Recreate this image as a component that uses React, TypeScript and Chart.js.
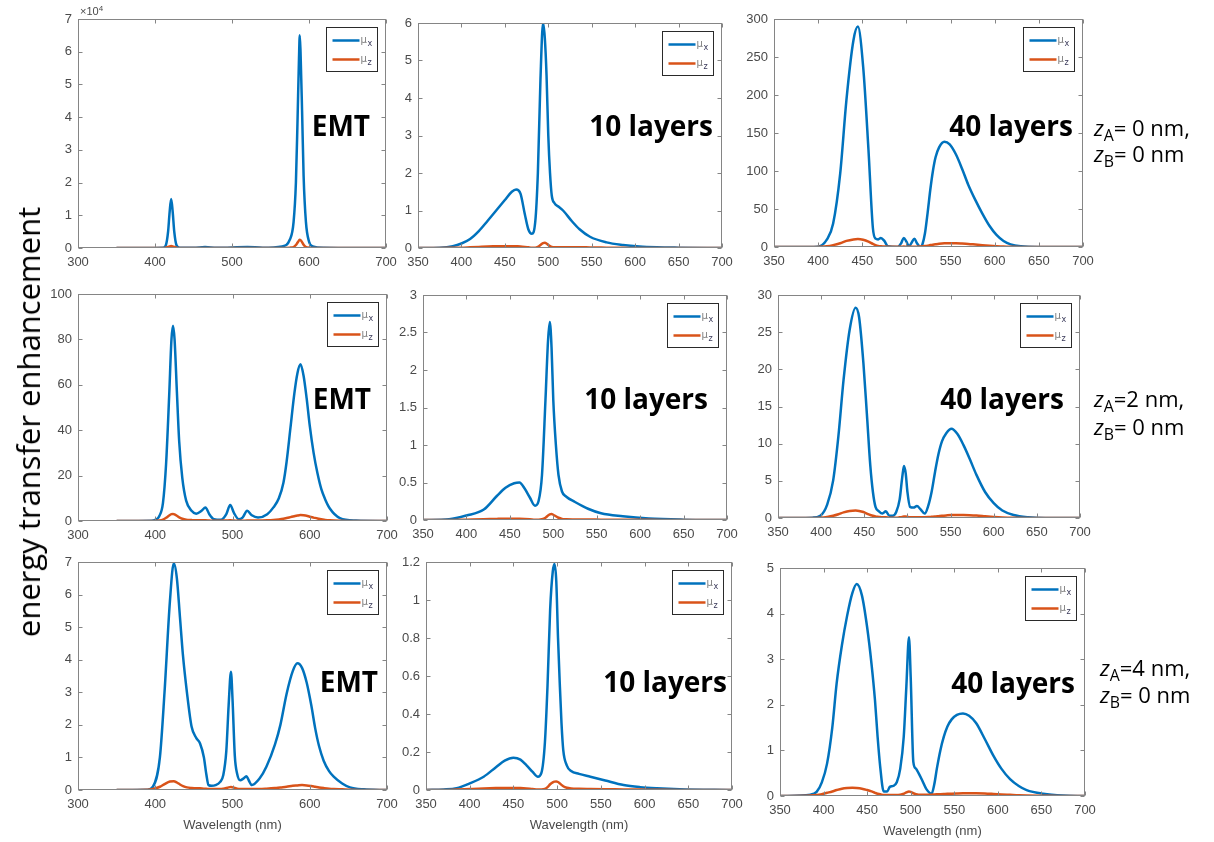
import React, { useEffect, useRef } from 'react';
import { Chart, registerables } from 'chart.js';

Chart.register(...registerables);

// ---------------- data ----------------
// Panel A: EMT, zA = 0 nm
const wlA = [350, 400, 410, 414, 417, 419, 421, 423, 425, 428, 432, 450, 465, 480, 520, 540, 565, 575, 580, 583, 585, 587, 588, 589, 591, 593, 596, 600, 605, 620, 700];
const muxA = [0, 0, 50, 800, 5000, 11000, 15000, 11000, 5000, 800, 100, 50, 300, 50, 300, 100, 500, 2500, 8000, 20000, 38000, 58000, 65000, 60000, 42000, 22000, 8000, 2000, 500, 100, 0];
const muzA = [0, 0, 0, 100, 300, 500, 600, 500, 300, 100, 0, 0, 0, 0, 0, 0, 0, 100, 300, 900, 1600, 2300, 2500, 2400, 1800, 1000, 300, 100, 0, 0, 0];

// Panel B: 10 layers, zA = 0 nm
const wlB = [350, 375, 390, 400, 410, 420, 430, 440, 450, 458, 463, 468, 473, 477, 481, 485, 488, 491, 494, 496, 498, 500, 502, 504, 507, 512, 517, 527, 536, 548, 567, 586, 605, 625, 650, 700];
const muxB = [0, 0.01, 0.05, 0.12, 0.24, 0.45, 0.72, 1.0, 1.28, 1.5, 1.56, 1.45, 0.9, 0.5, 0.38, 0.7, 2.0, 4.5, 6.0, 5.6, 4.6, 3.0, 2.0, 1.4, 1.2, 1.1, 1.0, 0.72, 0.5, 0.3, 0.15, 0.08, 0.04, 0.02, 0.01, 0];
const muzB = [0, 0, 0.005, 0.01, 0.02, 0.03, 0.04, 0.045, 0.05, 0.05, 0.045, 0.04, 0.03, 0.02, 0.01, 0.005, 0.03, 0.08, 0.13, 0.14, 0.12, 0.08, 0.05, 0.03, 0.02, 0.02, 0.02, 0.02, 0.02, 0.015, 0.01, 0.005, 0, 0, 0, 0];

// Panel C: 40 layers, zA = 0 nm
const wlC = [350, 395, 402, 410, 417, 425, 432, 440, 445, 451, 457, 462, 465, 468, 471, 475, 479, 490, 494, 497, 500, 503, 506, 509, 512, 516, 518, 521, 524, 527, 530, 533, 537, 543, 549, 556, 563, 570, 578, 586, 594, 602, 610, 618, 630, 650, 700];
const muxC = [0, 0, 1, 10, 31, 97, 193, 272, 290, 237, 128, 25, 11, 10, 12, 8, 1, 0, 5, 12, 7, 1, 6, 11, 5, 0, 3, 18, 45, 75, 100, 118, 131, 138.5, 135, 122, 103, 82, 62, 44, 28, 16, 8, 3.5, 1, 0.1, 0];
const muzC = [0, 0, 0.3, 1, 2.5, 5, 8, 10, 10.5, 9.5, 7, 4, 2.5, 1.5, 1, 0.5, 0.3, 0.2, 0.3, 0.5, 0.4, 0.3, 0.3, 0.4, 0.4, 0.5, 0.7, 1.2, 1.8, 2.5, 3.1, 3.6, 4.2, 4.8, 5, 4.9, 4.5, 4, 3.2, 2.4, 1.7, 1.1, 0.6, 0.3, 0.1, 0, 0];

// Panel D: EMT, zA = 2 nm
const wlD = [350, 395, 400, 405, 410, 414, 418, 421, 423, 425, 428, 431, 435, 440, 447, 453, 460, 465, 470, 476, 485, 492, 497, 502, 508, 513, 519, 525, 533, 545, 553, 560, 566, 570, 575, 580, 584, 588, 592, 596, 600, 605, 610, 615, 620, 626, 639, 660, 700];
const muxD = [0, 0.1, 0.5, 2, 8, 25, 55, 80, 86, 80, 57, 35, 19, 9, 4.5, 3.2, 4.5, 6, 3, 0.8, 0.5, 3, 7, 3.5, 0.8, 1.5, 4.5, 2.5, 1.5, 3, 6, 10, 17, 26, 41, 56, 65, 69, 64, 54, 42, 30, 21, 14, 9.5, 5.5, 1.3, 0.2, 0];
const muzD = [0, 0, 0.05, 0.2, 0.6, 1.4, 2.4, 3.0, 3.1, 2.9, 2.3, 1.6, 1.0, 0.6, 0.4, 0.3, 0.3, 0.3, 0.2, 0.1, 0.1, 0.2, 0.3, 0.2, 0.1, 0.1, 0.2, 0.2, 0.2, 0.3, 0.45, 0.7, 1.0, 1.3, 1.7, 2.1, 2.4, 2.6, 2.5, 2.3, 1.9, 1.5, 1.1, 0.8, 0.5, 0.3, 0.1, 0, 0];

// Panel E: 10 layers, zA = 2 nm
const wlE = [350, 380, 400, 420, 435, 445, 455, 461, 467, 473, 479, 483, 487, 491, 494, 496, 498, 500, 503, 506, 510, 515, 525, 540, 555, 580, 610, 650, 700];
const muxE = [0, 0.01, 0.06, 0.14, 0.32, 0.43, 0.49, 0.5, 0.42, 0.3, 0.19, 0.25, 0.6, 1.6, 2.4, 2.64, 2.3, 1.6, 1.0, 0.6, 0.38, 0.31, 0.24, 0.15, 0.09, 0.05, 0.02, 0.005, 0];
const muzE = [0, 0, 0.005, 0.01, 0.015, 0.017, 0.017, 0.016, 0.014, 0.01, 0.005, 0.004, 0.01, 0.03, 0.06, 0.075, 0.08, 0.07, 0.05, 0.03, 0.015, 0.01, 0.008, 0.006, 0.005, 0.003, 0.002, 0, 0];

// Panel F: 40 layers, zA = 2 nm
const wlF = [350, 390, 399, 407, 414, 420, 426, 433, 440, 444, 449, 453, 457, 460, 463, 467, 471, 475, 479, 483, 487, 491, 494, 496, 498, 500, 503, 507, 511, 515, 520, 524, 528, 532, 536, 540, 545, 551, 558, 565, 572, 580, 590, 600, 610, 623, 640, 660, 700];
const muxF = [0, 0.05, 0.3, 1.8, 5.1, 11, 18.6, 25.3, 28.3, 27, 20.8, 14, 7, 3.5, 1.5, 0.9, 0.6, 0.9, 0.3, 0.3, 0.8, 2.5, 5.5, 7, 6, 3.5, 1.5, 1.4, 1.6, 1.2, 0.6, 1.6, 3.5, 6.2, 8.6, 10.3, 11.4, 12, 11.3, 9.8, 8.0, 5.8, 3.5, 2.0, 1.0, 0.4, 0.1, 0, 0];
const muzF = [0, 0.01, 0.05, 0.15, 0.3, 0.5, 0.75, 0.95, 1, 0.95, 0.8, 0.6, 0.4, 0.3, 0.2, 0.15, 0.1, 0.1, 0.05, 0.05, 0.05, 0.1, 0.15, 0.2, 0.2, 0.15, 0.1, 0.1, 0.1, 0.1, 0.1, 0.12, 0.16, 0.2, 0.25, 0.3, 0.35, 0.4, 0.42, 0.41, 0.38, 0.33, 0.24, 0.15, 0.08, 0.03, 0.01, 0, 0];

// Panel G: EMT, zA = 4 nm
const wlG = [350, 390, 397, 406, 412, 419, 424, 428, 432, 436, 441, 447, 453, 458, 463, 466, 469, 473, 478, 484, 488, 492, 495, 498, 500, 503, 506, 510, 514, 518, 521, 525, 535, 544, 555, 562, 570, 578, 584, 590, 596, 602, 607, 612, 618, 625, 631, 642, 652, 670, 700];
const muxG = [0, 0.01, 0.1, 1, 3, 5.8, 6.96, 6.5, 5.3, 4.1, 3, 1.95, 1.6, 1.43, 1, 0.5, 0.15, 0.13, 0.15, 0.25, 0.45, 1.2, 2.6, 3.63, 2.8, 1.05, 0.5, 0.3, 0.35, 0.42, 0.3, 0.15, 0.35, 0.72, 1.4, 2.0, 2.95, 3.65, 3.89, 3.75, 3.3, 2.6, 1.9, 1.35, 0.9, 0.58, 0.41, 0.2, 0.08, 0.02, 0];
const muzG = [0, 0.01, 0.03, 0.1, 0.18, 0.26, 0.27, 0.23, 0.17, 0.12, 0.08, 0.06, 0.05, 0.05, 0.04, 0.04, 0.03, 0.03, 0.03, 0.03, 0.04, 0.06, 0.08, 0.09, 0.08, 0.06, 0.04, 0.03, 0.03, 0.03, 0.03, 0.03, 0.03, 0.04, 0.06, 0.08, 0.1, 0.13, 0.14, 0.15, 0.14, 0.12, 0.1, 0.08, 0.06, 0.04, 0.03, 0.02, 0.01, 0, 0];

// Panel H: 10 layers, zA = 4 nm
const wlH = [350, 370, 385, 400, 416, 430, 440, 450, 458, 465, 472, 478, 482, 486, 489, 492, 495, 497, 499, 501, 503, 505, 507, 511, 516, 525, 538, 555, 576, 595, 614, 640, 700];
const muxH = [0, 0.003, 0.01, 0.035, 0.07, 0.12, 0.155, 0.17, 0.16, 0.13, 0.095, 0.07, 0.09, 0.25, 0.55, 0.95, 1.15, 1.19, 1.1, 0.8, 0.56, 0.35, 0.21, 0.13, 0.1, 0.085, 0.07, 0.05, 0.026, 0.015, 0.009, 0.004, 0];
const muzH = [0, 0, 0.002, 0.005, 0.008, 0.01, 0.011, 0.011, 0.01, 0.008, 0.005, 0.003, 0.003, 0.006, 0.015, 0.03, 0.04, 0.044, 0.045, 0.042, 0.035, 0.027, 0.02, 0.012, 0.008, 0.006, 0.005, 0.004, 0.003, 0.002, 0.001, 0, 0];

// Panel I: 40 layers, zA = 4 nm
const wlI = [350, 385, 392, 398, 404, 410, 415, 421, 427, 433, 438, 444, 450, 455, 459, 462, 465, 469, 473, 476, 480, 484, 488, 492, 495, 498, 500, 503, 506, 509, 513, 518, 524, 527, 530, 534, 538, 542, 547, 553, 560, 567, 575, 585, 595, 604, 614, 624, 633, 652, 675, 700];
const muxI = [0, 0.03, 0.09, 0.3, 0.71, 1.5, 2.47, 3.3, 3.95, 4.45, 4.65, 4.4, 3.7, 2.9, 2.1, 1.3, 0.64, 0.1, 0.1, 0.2, 0.22, 0.3, 0.6, 1.3, 2.4, 3.48, 2.6, 0.75, 0.6, 0.5, 0.35, 0.15, 0.05, 0.25, 0.6, 1.0, 1.3, 1.52, 1.68, 1.78, 1.81, 1.76, 1.6, 1.25, 0.88, 0.6, 0.37, 0.22, 0.13, 0.05, 0.01, 0];
const muzI = [0, 0.01, 0.02, 0.04, 0.07, 0.1, 0.13, 0.16, 0.175, 0.18, 0.175, 0.16, 0.13, 0.1, 0.07, 0.05, 0.04, 0.02, 0.02, 0.02, 0.02, 0.02, 0.03, 0.05, 0.08, 0.1, 0.09, 0.06, 0.04, 0.03, 0.03, 0.03, 0.03, 0.033, 0.036, 0.04, 0.044, 0.048, 0.052, 0.056, 0.06, 0.062, 0.06, 0.055, 0.045, 0.035, 0.025, 0.015, 0.01, 0.005, 0, 0];

const seriesNames = ['μx', 'μz'];
const xTitle = 'Wavelength (nm)';
const yTitle = 'energy transfer enhancement';

// ---------------- styling / layout ----------------
const BLUE = '#0072BD';
const ORANGE = '#D95319';
const FRAME = '#858585';
const TICKTXT = '#4a4a4a';
const TICKFONT = 'Liberation Sans';

type PanelCfg = {
  wl: number[]; mux: number[]; muz: number[];
  l: number; t: number; r: number; b: number;
  xmin: number; xstep: number; ymax: number; ystep: number;
  tickDiv?: number; title?: boolean;
};

const panels: PanelCfg[] = [
  { wl: wlA, mux: muxA, muz: muzA, l: 78, t: 19, r: 386, b: 248, xmin: 300, xstep: 100, ymax: 70000, ystep: 10000, tickDiv: 10000 },
  { wl: wlB, mux: muxB, muz: muzB, l: 418, t: 23, r: 722, b: 248, xmin: 350, xstep: 50, ymax: 6, ystep: 1 },
  { wl: wlC, mux: muxC, muz: muzC, l: 774, t: 19, r: 1083, b: 247, xmin: 350, xstep: 50, ymax: 300, ystep: 50 },
  { wl: wlD, mux: muxD, muz: muzD, l: 78, t: 294, r: 387, b: 521, xmin: 300, xstep: 100, ymax: 100, ystep: 20 },
  { wl: wlE, mux: muxE, muz: muzE, l: 423, t: 295, r: 727, b: 520, xmin: 350, xstep: 50, ymax: 3, ystep: 0.5 },
  { wl: wlF, mux: muxF, muz: muzF, l: 778, t: 295, r: 1080, b: 518, xmin: 350, xstep: 50, ymax: 30, ystep: 5 },
  { wl: wlG, mux: muxG, muz: muzG, l: 78, t: 562, r: 387, b: 790, xmin: 300, xstep: 100, ymax: 7, ystep: 1, title: true },
  { wl: wlH, mux: muxH, muz: muzH, l: 426, t: 562, r: 732, b: 790, xmin: 350, xstep: 50, ymax: 1.2, ystep: 0.2, title: true },
  { wl: wlI, mux: muxI, muz: muzI, l: 780, t: 568, r: 1085, b: 796, xmin: 350, xstep: 50, ymax: 5, ystep: 1, title: true },
];

const PAD_L = 50, PAD_T = 12, PAD_R = 18;

const framePlugin = {
  id: 'matlabFrame',
  afterDatasetsDraw(chart: any) {
    const { ctx, chartArea: a, scales } = chart;
    const L = Math.round(a.left) + 0.5, R = Math.round(a.right) - 0.5;
    const T = Math.round(a.top) + 0.5, B = Math.round(a.bottom) - 0.5;
    ctx.save();
    ctx.strokeStyle = FRAME;
    ctx.lineWidth = 1;
    ctx.strokeRect(L, T, R - L, B - T);
    const tl = 4;
    ctx.beginPath();
    scales.x.ticks.forEach((tk: any) => {
      const px = Math.round(scales.x.getPixelForValue(tk.value)) + 0.5;
      ctx.moveTo(px, B); ctx.lineTo(px, B - tl);
      ctx.moveTo(px, T); ctx.lineTo(px, T + tl);
    });
    scales.y.ticks.forEach((tk: any) => {
      const py = Math.round(scales.y.getPixelForValue(tk.value)) + 0.5;
      ctx.moveTo(L, py); ctx.lineTo(L + tl, py);
      ctx.moveTo(R, py); ctx.lineTo(R - tl, py);
    });
    ctx.stroke();

    // legend box (MATLAB style, inside top-right)
    const w = 51, h = 44;
    const bx = Math.round(a.right) - 9 - w + 0.5;
    const by = Math.round(a.top) + 8 + 0.5;
    ctx.fillStyle = '#ffffff';
    ctx.fillRect(bx, by, w, h);
    ctx.strokeStyle = '#2a2a2a';
    ctx.strokeRect(bx, by, w, h);
    const rows = [13, 32];
    chart.data.datasets.forEach((ds: any, i: number) => {
      const y = by + rows[i];
      ctx.strokeStyle = ds.borderColor;
      ctx.lineWidth = 2.5;
      ctx.beginPath();
      ctx.moveTo(bx + 6, y);
      ctx.lineTo(bx + 33, y);
      ctx.stroke();
      ctx.fillStyle = '#808080';
      ctx.textBaseline = 'alphabetic';
      ctx.font = '10px "DejaVu Sans"';
      ctx.fillText(ds.label.charAt(0), bx + 34, y + 2);
      ctx.fillStyle = '#3a3a5a';
      ctx.font = '8px "DejaVu Sans"';
      ctx.fillText(ds.label.slice(1), bx + 41, y + 5);
    });
    ctx.restore();
  },
};

function fmt(v: number) {
  return String(Math.round(v * 1000) / 1000);
}

function PanelChart({ p }: { p: PanelCfg }) {
  const ref = useRef<HTMLCanvasElement | null>(null);
  const xh = p.title ? 44 : 30;
  const width = p.r - p.l + PAD_L + PAD_R;
  const height = p.b - p.t + PAD_T + xh;
  useEffect(() => {
    if (!ref.current) return;
    const chart = new Chart(ref.current, {
      type: 'line',
      data: {
        datasets: [
          {
            label: seriesNames[0],
            data: p.wl.map((x, i) => ({ x, y: p.mux[i] })),
            borderColor: BLUE,
            backgroundColor: BLUE,
            order: 2,
          },
          {
            label: seriesNames[1],
            data: p.wl.map((x, i) => ({ x, y: p.muz[i] })),
            borderColor: ORANGE,
            backgroundColor: ORANGE,
            order: 1,
          },
        ],
      },
      options: {
        animation: false,
        responsive: false,
        maintainAspectRatio: false,
        layout: { padding: { top: PAD_T, right: PAD_R, left: 0, bottom: 0 } },
        plugins: { legend: { display: false }, tooltip: { enabled: false } },
        elements: {
          point: { radius: 0, hoverRadius: 0 },
          line: { borderWidth: 2.5, cubicInterpolationMode: 'monotone' },
        },
        scales: {
          x: {
            type: 'linear',
            min: p.xmin,
            max: 700,
            grid: { display: false, drawTicks: false },
            border: { display: false },
            ticks: {
              stepSize: p.xstep,
              autoSkip: false,
              maxRotation: 0,
              padding: 7,
              color: TICKTXT,
              font: { family: TICKFONT, size: 13 },
              callback: (v: any) => fmt(Number(v)),
            },
            title: {
              display: !!p.title,
              text: xTitle,
              color: TICKTXT,
              font: { family: TICKFONT, size: 13 },
              padding: { top: 0, bottom: 1 },
            },
            afterFit: (s: any) => {
              s.height = xh;
              s.paddingLeft = 0;
              s.paddingRight = 0;
            },
          },
          y: {
            type: 'linear',
            min: 0,
            max: p.ymax,
            grid: { display: false, drawTicks: false },
            border: { display: false },
            ticks: {
              stepSize: p.ystep,
              autoSkip: false,
              padding: 6,
              color: TICKTXT,
              font: { family: TICKFONT, size: 13 },
              callback: (v: any) => fmt(Number(v) / (p.tickDiv || 1)),
            },
            afterFit: (s: any) => {
              s.width = PAD_L;
              s.paddingTop = 0;
              s.paddingBottom = 0;
            },
          },
        },
      } as any,
      plugins: [framePlugin],
    });
    return () => chart.destroy();
  }, []);
  return (
    <canvas
      ref={ref}
      width={width}
      height={height}
      style={{ position: 'absolute', left: p.l - PAD_L, top: p.t - PAD_T, width, height }}
    />
  );
}

const panelLabels = [
  { text: 'EMT', right: 370, cy: 126 },
  { text: '10 layers', right: 713, cy: 126 },
  { text: '40 layers', right: 1073, cy: 126 },
  { text: 'EMT', right: 371, cy: 399 },
  { text: '10 layers', right: 708, cy: 399 },
  { text: '40 layers', right: 1064, cy: 399 },
  { text: 'EMT', right: 378, cy: 682 },
  { text: '10 layers', right: 727, cy: 682 },
  { text: '40 layers', right: 1075, cy: 683 },
];

const zLabels = [
  { a: '= 0 nm,', b: '= 0 nm', x: 1094, y1: 128, y2: 154 },
  { a: '=2 nm,', b: '= 0 nm', x: 1094, y1: 399, y2: 427 },
  { a: '=4 nm,', b: '= 0 nm', x: 1100, y1: 668, y2: 695 },
];

const subStyle: React.CSSProperties = { fontSize: '0.72em', verticalAlign: '-0.32em', lineHeight: 0 };

export default function App() {
  return (
    <div style={{ position: 'fixed', left: 0, top: 0, width: 1214, height: 842, background: '#fff', overflow: 'hidden' }}>
      {panels.map((p, i) => (
        <PanelChart key={i} p={p} />
      ))}
      <div style={{ position: 'absolute', left: 80, top: 5, fontFamily: TICKFONT, fontSize: 11, color: TICKTXT, whiteSpace: 'nowrap' }}>
        ×10<sup style={{ fontSize: 8, verticalAlign: '0.5em', lineHeight: 0 }}>4</sup>
      </div>
      {panelLabels.map((lb, i) => (
        <div
          key={'pl' + i}
          style={{
            position: 'absolute',
            right: 1214 - lb.right,
            top: lb.cy - 15,
            fontFamily: '"Open Sans"',
            fontWeight: 700,
            fontSize: 28,
            lineHeight: '28px',
            whiteSpace: 'nowrap',
            color: '#000',
          }}
        >
          {lb.text}
        </div>
      ))}
      {zLabels.map((z, i) => (
        <React.Fragment key={'z' + i}>
          <div style={{ position: 'absolute', left: z.x, top: z.y1 - 11, fontFamily: '"Open Sans"', fontSize: 22, lineHeight: '21px', whiteSpace: 'nowrap', color: '#000' }}>
            <i>z</i><span style={subStyle}>A</span>{z.a}
          </div>
          <div style={{ position: 'absolute', left: z.x, top: z.y2 - 11, fontFamily: '"Open Sans"', fontSize: 22, lineHeight: '21px', whiteSpace: 'nowrap', color: '#000' }}>
            <i>z</i><span style={subStyle}>B</span>{z.b}
          </div>
        </React.Fragment>
      ))}
      <div
        style={{
          position: 'absolute',
          left: 28,
          top: 422,
          transform: 'translate(-50%, -50%) rotate(-90deg)',
          fontFamily: '"Open Sans"',
          fontSize: 31,
          whiteSpace: 'nowrap',
          color: '#000',
        }}
      >
        {yTitle}
      </div>
    </div>
  );
}
